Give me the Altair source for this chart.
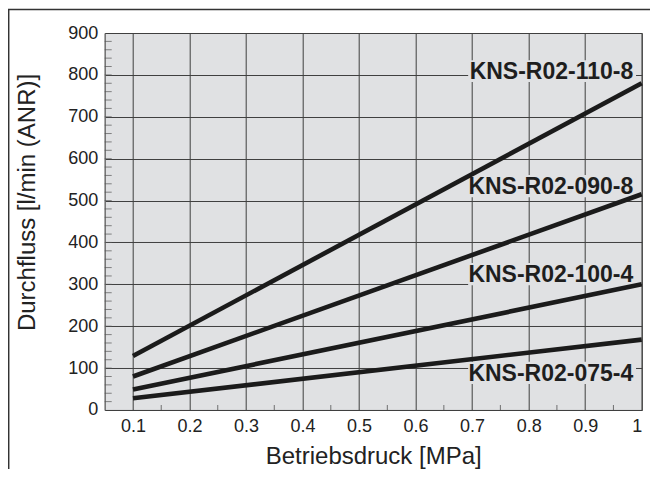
import altair as alt
import pandas as pd

# ---- data ----
series = ["KNS-R02-110-8", "KNS-R02-090-8", "KNS-R02-100-4", "KNS-R02-075-4"]
pressure = [0.1, 1.0]                      # Betriebsdruck [MPa]
flow_110_8 = [129, 780]                    # Durchfluss [l/min (ANR)]
flow_090_8 = [80, 515]
flow_100_4 = [49, 300]
flow_075_4 = [28, 168]

label_x = [0.985, 0.985, 0.985, 0.985]
label_y = [790, 516, 306, 70]
box_x0 = [0.693, 0.693, 0.693, 0.693]
box_x1 = [0.99, 0.99, 0.99, 0.99]
box_top = [835, 561, 351, 115]
box_bottom = [783, 508, 298, 62]

x_major = [0.1, 0.2, 0.3, 0.4, 0.5, 0.6, 0.7, 0.8, 0.9, 1.0]
x_minor = [0.15, 0.25, 0.35, 0.45, 0.55, 0.65, 0.75, 0.85, 0.95]
y_major = [0, 100, 200, 300, 400, 500, 600, 700, 800, 900]
y_minor = list(range(20, 900, 20))

# ---- tables ----
flows = [flow_110_8, flow_090_8, flow_100_4, flow_075_4]
lines_df = pd.DataFrame(
    [{"series": s, "p": p, "q": q} for s, f in zip(series, flows) for p, q in zip(pressure, f)]
)
labels_df = pd.DataFrame({
    "series": series, "lx": label_x, "ly": label_y,
    "x0": box_x0, "x1": box_x1, "y0": box_bottom, "y1": box_top,
})
xminor_df = pd.DataFrame({"p": x_minor})
yminor_df = pd.DataFrame({"q": y_minor})

FONT = "Liberation Sans"
GRID = "#3f3f3f"
BG = "#e0e1e3"
W, H = 537, 377
xs = alt.Scale(domain=[0.05, 1.0], nice=False, zero=False)
ys = alt.Scale(domain=[0, 900], nice=False, zero=False)

main_x = alt.Axis(
    values=x_major, format=".1~f", grid=True, gridColor=GRID, gridWidth=1,
    tickSize=0, domain=True, domainColor=GRID, labelFontSize=18, labelColor="#222",
    labelPadding=8, labelFont=FONT, title="Betriebsdruck [MPa]", titleFont=FONT,
    titleFontSize=24, titleFontWeight="normal", titleColor="#222", titleY=54,
    titleBaseline="alphabetic", orient="bottom",
)
main_y = alt.Axis(
    values=y_major, grid=True, gridColor=GRID, gridWidth=1, tickSize=0,
    domain=True, domainColor="#777", labelFontSize=18, labelColor="#222",
    labelPadding=7, labelFont=FONT, title="Durchfluss [l/min (ANR)]", titleFont=FONT,
    titleFontSize=24, titleFontWeight="normal", titleColor="#222", titleX=-70,
    titleY=169, titleBaseline="alphabetic", orient="left",
)

X = lambda f: alt.X(f, scale=xs, axis=main_x)
Y = lambda f: alt.Y(f, scale=ys, axis=main_y)

boxes = alt.Chart(labels_df).mark_rect(color=BG).encode(
    x=X("x0:Q"), x2="x1:Q", y=Y("y0:Q"), y2="y1:Q",
)
texts = alt.Chart(labels_df).mark_text(
    align="right", baseline="alphabetic", font=FONT, fontSize=23,
    fontWeight="bold", color="#1e1e1e",
).encode(x=X("lx:Q"), y=Y("ly:Q"), text="series:N")
lines = alt.Chart(lines_df).mark_line(
    strokeWidth=4.6, color="#1b1b1b", strokeCap="butt"
).encode(x=X("p:Q"), y=Y("q:Q"), detail="series:N")

# inner minor ticks
yticks = alt.Chart(yminor_df).mark_tick(
    orient="horizontal", size=7, thickness=1, color="#555"
).encode(y=Y("q:Q"), x=alt.value(3.5))
xticks = alt.Chart(xminor_df).mark_tick(
    orient="vertical", size=5, thickness=1, color=GRID
).encode(x=X("p:Q"), y=alt.value(H - 2.5))

frame_top = alt.Chart().mark_rule(color="#333", strokeWidth=1.5).encode(
    x=alt.value(-97), x2=alt.value(600), y=alt.value(-23.5)
)
frame_left = alt.Chart().mark_rule(color="#333", strokeWidth=1.5).encode(
    x=alt.value(-96), y=alt.value(-23.5), y2=alt.value(460)
)

chart = (
    alt.layer(boxes, yticks, xticks, texts, lines, frame_top, frame_left)
    .properties(
        width=W, height=H, autosize="none",
        padding={"left": 96.7, "top": 25, "right": 8, "bottom": 59},
        view=alt.ViewBackground(fill=BG, stroke=GRID, strokeWidth=1),
    )
    .configure_view(fill=BG, stroke=GRID, strokeWidth=1)
    .configure(font=FONT)
)

chart.save("out.html", embed_options={"renderer": "svg", "actions": False})
